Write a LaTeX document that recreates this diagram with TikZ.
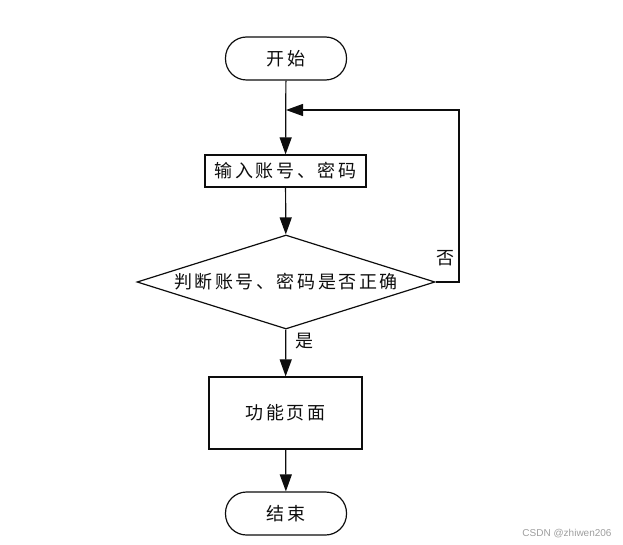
\documentclass[tikz,border=0pt]{standalone}
\usepackage{fontspec}
\newfontfamily\cjkfont[LetterSpace=14]{Noto Sans CJK SC}
\setsansfont{Liberation Sans}
\usetikzlibrary{arrows.meta,shapes.geometric}
\definecolor{FlowInk}{gray}{0.05}
\definecolor{FlowMark}{gray}{0.62}
\tikzset{
    flow/chart/.style={
        x=1pt, y=-1pt,
        font=\fontsize{18}{21}\selectfont\cjkfont,
        draw=FlowInk,
        text=FlowInk,
        line width=1.2pt,
        >={Triangle[length=17pt, width=12pt]}
    },
    flow/terminal/.style={
        draw=FlowInk, rounded corners=21pt,
        minimum width=121pt, minimum height=43pt, inner sep=0pt
    },
    flow/process/.style={
        draw=FlowInk, minimum width=161pt, minimum height=32pt, inner sep=0pt
    },
    flow/decision/.style={
        draw=FlowInk, diamond, aspect=3.17,
        minimum width=298pt, minimum height=94pt, inner sep=0pt
    },
    flow/link/.style={draw=FlowInk, ->},
    flow/label/.style={inner sep=1pt},
    flow/mark/.style={
        text=FlowMark, font=\fontsize{10}{11}\selectfont\sffamily
    }
}

\begin{document}
\begin{tikzpicture}[flow/chart]
    \useasboundingbox (0,0) rectangle (623,545);

    \node[flow/terminal] (start) at (286,58.5) {开始};
    \node[flow/process] (input) at (285.5,171) {输入账号、密码};
    \node[flow/decision] (check) at (286,282) {判断账号、密码是否正确};
    \node[flow/process, minimum width=153pt, minimum height=72pt]
        (page) at (285.5,413) {功能页面};
    \node[flow/terminal] (stop) at (286,513.5) {结束};

    \coordinate (merge) at (286,110);
    \coordinate (loop) at (459,110);

    \draw[flow/link] (start) -- (input);
    \draw[flow/link] (input) -- (check);
    \draw[flow/link] (check) -- (page)
        node[flow/label, pos=0.25, anchor=west, xshift=8pt] (yes) {是};
    \draw[flow/link] (page) -- (stop);
    % retry loop back above the input box
    \draw[flow/link] (check.east) -| (loop)
        node[flow/label, pos=0.57, anchor=east, xshift=-3pt] (no) {否}
        -- (merge);

    \node[flow/mark] (credit) at (567,534) {CSDN @zhiwen206};
\end{tikzpicture}
\end{document}
